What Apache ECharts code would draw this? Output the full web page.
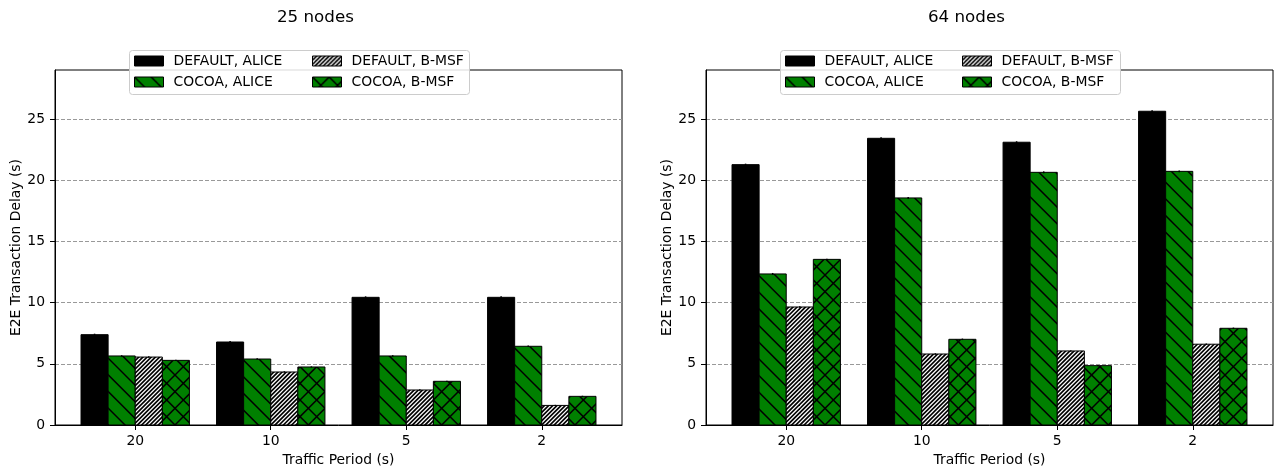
<!DOCTYPE html>
<html><head><meta charset="utf-8">
<script src="https://cdn.jsdelivr.net/npm/echarts@6/dist/echarts.min.js"></script>
<style>html,body{margin:0;padding:0;background:#fff}#c{width:1276px;height:469px}</style>
</head><body><div id="c"></div>
<script>
const categories = ['20', '10', '5', '2'];
const seriesNames = ['DEFAULT, ALICE', 'COCOA, ALICE', 'DEFAULT, B-MSF', 'COCOA, B-MSF'];
const yTicks = [0, 5, 10, 15, 20, 25];
const panelTitles = ['25 nodes', '64 nodes'];

const n25_defaultAlice = [7.38, 6.78, 10.43, 10.43];
const n25_cocoaAlice   = [5.64, 5.39, 5.64, 6.43];
const n25_defaultBmsf  = [5.55, 4.33, 2.86, 1.60];
const n25_cocoaBmsf    = [5.28, 4.74, 3.57, 2.34];
const n64_defaultAlice = [21.27, 23.42, 23.10, 25.63];
const n64_cocoaAlice   = [12.34, 18.55, 20.64, 20.72];
const n64_defaultBmsf  = [9.64, 5.80, 6.05, 6.60];
const n64_cocoaBmsf    = [13.53, 7.00, 4.85, 7.90];

const e25_defaultAlice = [0.08, 0.08, 0.08, 0.08];
const e25_cocoaAlice   = [0.06, 0.06, 0.06, 0.06];
const e25_defaultBmsf  = [0.06, 0.06, 0.06, 0.05];
const e25_cocoaBmsf    = [0.05, 0.05, 0.05, 0.05];
const e64_defaultAlice = [0.08, 0.08, 0.08, 0.08];
const e64_cocoaAlice   = [0.08, 0.08, 0.08, 0.08];
const e64_defaultBmsf  = [0.06, 0.06, 0.06, 0.06];
const e64_cocoaBmsf    = [0.06, 0.06, 0.06, 0.06];

const FONT = 'DejaVu Sans';

function makePattern(bg, dirs, n, lw) {
  const S = 100;
  const cv = document.createElement('canvas');
  cv.width = S; cv.height = S;
  const g = cv.getContext('2d');
  g.fillStyle = bg; g.fillRect(0, 0, S, S);
  if (n) {
    g.strokeStyle = '#000'; g.lineWidth = lw;
    const step = S / n;
    for (const d of dirs) {
      for (let k = -n - 2; k <= 2 * n + 2; k++) {
        const c0 = k * step;
        g.beginPath();
        if (d === '\\') { g.moveTo(c0 - S, -S); g.lineTo(c0 + 2 * S, 2 * S); }
        else { g.moveTo(c0 - S, 2 * S); g.lineTo(c0 + 2 * S, -S); }
        g.stroke();
      }
    }
  }
  return { image: cv, repeat: 'repeat' };
}

const fills = [
  '#000000',
  makePattern('#008000', ['\\'], 6, 1.5),
  makePattern('#ffffff', ['/'], 24, 1.7),
  makePattern('#008000', ['\\', '/'], 6, 1.5)
];

function barSeries(idx, values, errs, axisIdx) {
  const offset = (idx - 1.5) * 0.2;
  const fill = fills[idx];
  return {
    type: 'custom', name: seriesNames[idx],
    xAxisIndex: axisIdx, yAxisIndex: axisIdx,
    data: values.map((v, i) => [i, v, errs[i]]),
    encode: { x: 0, y: 1 },
    itemStyle: { color: fill },
    renderItem: function (params, api) {
      const xc = api.value(0) + offset, v = api.value(1), e = api.value(2);
      const tl = api.coord([xc - 0.1, v]);
      const br = api.coord([xc + 0.1, 0]);
      const top = api.coord([xc, v + e]);
      const bot = api.coord([xc, v - e]);
      return {
        type: 'group', children: [
          { type: 'rect', shape: { x: tl[0], y: tl[1], width: br[0] - tl[0], height: br[1] - tl[1] },
            style: { fill: fill, stroke: '#000', lineWidth: 1 } },
          { type: 'line', shape: { x1: top[0], y1: top[1], x2: bot[0], y2: bot[1] },
            style: { stroke: '#000', lineWidth: 1.5 } }
        ]
      };
    }
  };
}

const grids = [
  { left: 55, top: 70, width: 567, height: 355 },
  { left: 706, top: 70, width: 567, height: 355 }
];

function xAxis(i) {
  return {
    type: 'value', gridIndex: i, min: -0.592, max: 3.592,
    name: 'Traffic Period (s)', nameLocation: 'middle', nameGap: 28,
    nameTextStyle: { fontFamily: FONT, fontSize: 13.9, color: '#000' },
    axisLine: { show: true, onZero: false, lineStyle: { color: '#000', width: 1 } },
    axisTick: { show: true, customValues: [0, 1, 2, 3], length: 5, lineStyle: { color: '#000', width: 1 } },
    axisLabel: { show: true, customValues: [0, 1, 2, 3], margin: 9,
      fontFamily: FONT, fontSize: 13.9, color: '#000',
      formatter: v => categories[Math.round(v)] },
    splitLine: { show: false }
  };
}
function yAxis(i) {
  return {
    type: 'value', gridIndex: i, min: 0, max: 29, interval: 5,
    name: 'E2E Transaction Delay (s)', nameLocation: 'middle', nameGap: 31,
    nameTextStyle: { fontFamily: FONT, fontSize: 13.9, color: '#000' },
    axisLine: { show: true, onZero: false, lineStyle: { color: '#000', width: 1 } },
    axisTick: { show: true, customValues: yTicks, length: 5, lineStyle: { color: '#000', width: 1 } },
    axisLabel: { show: true, customValues: yTicks, margin: 10, fontFamily: FONT, fontSize: 13.9, color: '#000' },
    splitLine: { show: true, lineStyle: { color: '#999', width: 1, type: [4, 2] } }
  };
}

function legend(left, names) {
  return {
    orient: 'vertical', left: left, top: 53, padding: 0,
    itemWidth: 29, itemHeight: 10, itemGap: 5, selectedMode: false, z: 20,
    textStyle: { fontFamily: FONT, fontSize: 13.9, color: '#000', lineHeight: 16, padding: [0, 0, 0, 5] },
    data: names.map(n => {
      const idx = seriesNames.indexOf(n);
      return { name: n, icon: 'rect', itemStyle: { color: fills[idx], borderColor: '#000', borderWidth: 1 } };
    })
  };
}

const option = {
  backgroundColor: '#fff',
  animation: false,
  title: [
    { text: panelTitles[0], left: 277, top: 8, padding: 0, textStyle: { fontFamily: FONT, fontSize: 16.7, fontWeight: 'normal', color: '#000', lineHeight: 20 } },
    { text: panelTitles[1], left: 928, top: 8, padding: 0, textStyle: { fontFamily: FONT, fontSize: 16.7, fontWeight: 'normal', color: '#000', lineHeight: 20 } }
  ],
  grid: grids.map(g => Object.assign({ show: true, borderColor: '#000', borderWidth: 1, backgroundColor: 'transparent', containLabel: false, outerBoundsMode: 'none' }, g)),
  xAxis: [xAxis(0), xAxis(1)],
  yAxis: [yAxis(0), yAxis(1)],
  legend: [
    legend(134, [seriesNames[0], seriesNames[1]]),
    legend(312, [seriesNames[2], seriesNames[3]]),
    legend(785, [seriesNames[0], seriesNames[1]]),
    legend(962, [seriesNames[2], seriesNames[3]])
  ],
  graphic: [
    { type: 'rect', z: 10, shape: { x: 129.5, y: 50.5, width: 340, height: 44, r: 3 },
      style: { fill: 'rgba(255,255,255,0.85)', stroke: '#cccccc', lineWidth: 1 } },
    { type: 'rect', z: 10, shape: { x: 780.5, y: 50.5, width: 340, height: 44, r: 3 },
      style: { fill: 'rgba(255,255,255,0.85)', stroke: '#cccccc', lineWidth: 1 } }
  ],
  series: [
    barSeries(0, n25_defaultAlice, e25_defaultAlice, 0),
    barSeries(1, n25_cocoaAlice, e25_cocoaAlice, 0),
    barSeries(2, n25_defaultBmsf, e25_defaultBmsf, 0),
    barSeries(3, n25_cocoaBmsf, e25_cocoaBmsf, 0),
    barSeries(0, n64_defaultAlice, e64_defaultAlice, 1),
    barSeries(1, n64_cocoaAlice, e64_cocoaAlice, 1),
    barSeries(2, n64_defaultBmsf, e64_defaultBmsf, 1),
    barSeries(3, n64_cocoaBmsf, e64_cocoaBmsf, 1)
  ]
};
const chart = echarts.init(document.getElementById('c'), null, { renderer: 'canvas' });
chart.setOption(option);
</script></body></html>
